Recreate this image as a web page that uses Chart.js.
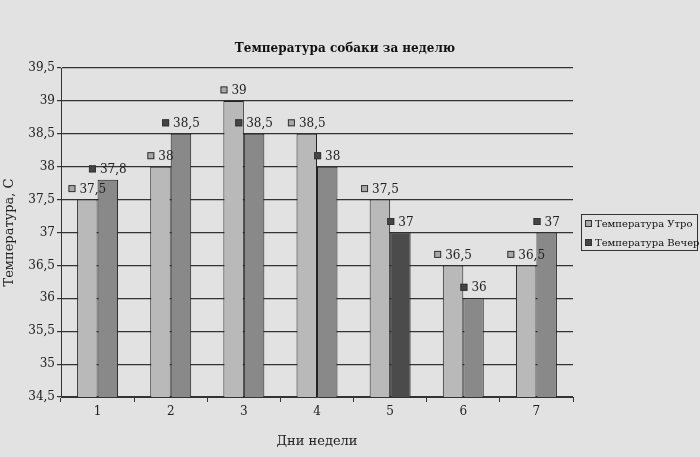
<!DOCTYPE html>
<html>
<head>
<meta charset="utf-8">
<script src="https://cdn.jsdelivr.net/npm/chart.js@4"></script>
<style>
  html, body { margin: 0; padding: 0; background: #e2e2e2; }
  #wrap { width: 700px; height: 457px; }
</style>
</head>
<body>
<div id="wrap"><canvas id="tempChart" width="700" height="457"></canvas></div>
<script>
// data
const days = ["1", "2", "3", "4", "5", "6", "7"];
const morningTemps = [37.5, 38, 39, 38.5, 37.5, 36.5, 36.5];
const eveningTemps = [37.8, 38.5, 38.5, 38, 37, 36, 37];
const seriesNames = ["Температура Утро", "Температура Вечер"];
const chartTitle = "Температура собаки за неделю";

const FONT = "'DejaVu Serif', serif";
const morningColor = "#b9b9b9";
const eveningColors = ["#898989", "#898989", "#898989", "#898989", "#4b4b4b", "#898989", "#898989"];
const markerColors = ["#a8a8a8", "#454545"];

function fmt(v) {
  return String(v).replace(".", ",");
}

// value labels with little square keys, title and legend box
const decorPlugin = {
  id: "decor",
  afterDatasetsDraw(chart) {
    const ctx = chart.ctx;
    ctx.save();
    ctx.font = "12px " + FONT;
    ctx.textBaseline = "middle";
    chart.data.datasets.forEach((ds, di) => {
      const meta = chart.getDatasetMeta(di);
      meta.data.forEach((bar, i) => {
        const txt = fmt(ds.data[i]);
        const tw = ctx.measureText(txt).width;
        const sq = 7, gap = 4;
        const total = sq + gap + tw;
        const x0 = bar.x - total / 2;
        const cy = bar.y - 11;
        ctx.fillStyle = markerColors[di];
        ctx.fillRect(x0, cy - sq / 2, sq, sq);
        ctx.strokeStyle = "#333";
        ctx.lineWidth = 1;
        ctx.strokeRect(x0 + 0.5, cy - sq / 2 + 0.5, sq - 1, sq - 1);
        ctx.fillStyle = "#222";
        ctx.textAlign = "left";
        ctx.fillText(txt, x0 + sq + gap, cy + 1);
      });
    });
    ctx.restore();
  },
  afterDraw(chart) {
    const ctx = chart.ctx;
    ctx.save();
    // title
    ctx.font = "bold 12px " + FONT;
    ctx.fillStyle = "#111";
    ctx.textAlign = "center";
    ctx.textBaseline = "middle";
    ctx.fillText(chartTitle, 345, 49);
    // legend
    ctx.strokeStyle = "#333";
    ctx.lineWidth = 1;
    ctx.strokeRect(581.5, 214.5, 116, 36);
    ctx.font = "10px " + FONT;
    ctx.textAlign = "left";
    seriesNames.forEach((name, i) => {
      const y = 223 + i * 19;
      ctx.fillStyle = markerColors[i];
      ctx.fillRect(585, y - 3, 7, 7);
      ctx.strokeStyle = "#333";
      ctx.strokeRect(585.5, y - 2.5, 6, 6);
      ctx.fillStyle = "#111";
      ctx.fillText(name, 595, y + 1);
    });
    ctx.restore();
  }
};

const ctx = document.getElementById("tempChart").getContext("2d");
new Chart(ctx, {
  type: "bar",
  data: {
    labels: days,
    datasets: [
      {
        label: seriesNames[0],
        data: morningTemps,
        backgroundColor: morningColor,
        borderColor: "#222",
        borderWidth: 1,
        categoryPercentage: 0.56,
        barPercentage: 1,
      },
      {
        label: seriesNames[1],
        data: eveningTemps,
        backgroundColor: eveningColors,
        borderColor: "#222",
        borderWidth: 1,
        categoryPercentage: 0.56,
        barPercentage: 1,
      },
    ],
  },
  options: {
    responsive: false,
    animation: false,
    layout: { padding: { top: 68, right: 127, bottom: 0, left: 0 } },
    plugins: {
      legend: { display: false },
      title: { display: false },
      tooltip: { enabled: false },
    },
    scales: {
      x: {
        grid: { drawOnChartArea: false, drawTicks: true, tickLength: 5, color: "#333", offset: true },
        border: { color: "#333", width: 1 },
        ticks: { color: "#222", padding: 3, font: { family: FONT, size: 12 } },
        title: {
          display: true,
          text: "Дни недели",
          color: "#222",
          font: { family: FONT, size: 13 },
          padding: { top: 0, bottom: 8 },
        },
        afterFit(scale) { scale.height = 60; },
      },
      y: {
        min: 34.5,
        max: 39.5,
        grid: { color: "#333", tickLength: 4, lineWidth: 1.2 },
        border: { color: "#333", width: 1 },
        ticks: {
          stepSize: 0.5,
          color: "#222",
          padding: 2,
          font: { family: FONT, size: 12 },
          callback: (v) => fmt(v),
        },
        title: {
          display: true,
          text: "Температура, С",
          color: "#222",
          font: { family: FONT, size: 13 },
          padding: { top: 2, bottom: 0 },
        },
        afterFit(scale) { scale.width = 61; },
      },
    },
  },
  plugins: [decorPlugin],
});
</script>
</body>
</html>
